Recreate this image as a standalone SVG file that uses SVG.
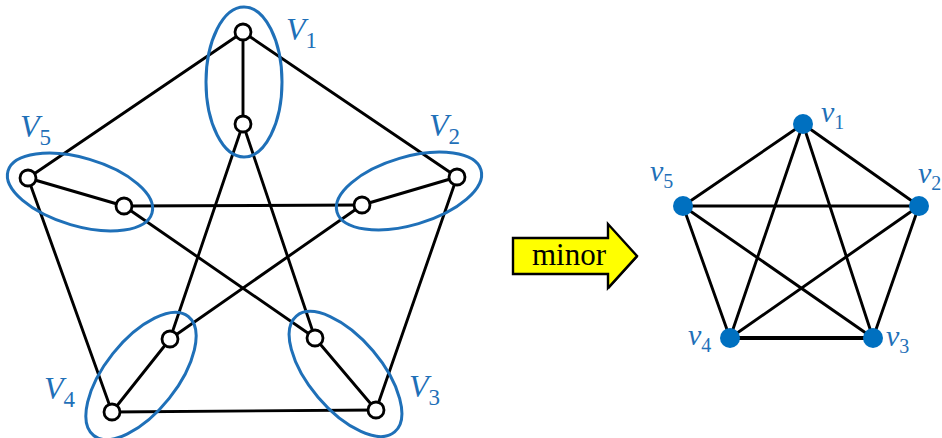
<svg xmlns="http://www.w3.org/2000/svg" width="942" height="438" viewBox="0 0 942 438">
<style>
.e{stroke:#000;stroke-width:2.9;fill:none;stroke-linecap:round}
.n{fill:#fff;stroke:#000;stroke-width:2.8}
.g{fill:none;stroke:#1f70b8;stroke-width:3}
.lab{font-family:"Liberation Serif",serif;font-style:italic;fill:#1f70b8}
.sub{font-style:normal}
.d{fill:#0070c0}
</style>
<rect width="942" height="438" fill="#fff"/>
<g id="edges-left">
<line class="e" x1="243" y1="32" x2="457" y2="177"/>
<line class="e" x1="457" y1="177" x2="376" y2="410"/>
<line class="e" x1="376" y1="410" x2="112" y2="412"/>
<line class="e" x1="112" y1="412" x2="28" y2="178"/>
<line class="e" x1="28" y1="178" x2="243" y2="32"/>
<line class="e" x1="243" y1="32" x2="243" y2="124"/>
<line class="e" x1="457" y1="177" x2="362" y2="205"/>
<line class="e" x1="376" y1="410" x2="315" y2="338"/>
<line class="e" x1="112" y1="412" x2="170" y2="339"/>
<line class="e" x1="28" y1="178" x2="124" y2="206"/>
<line class="e" x1="243" y1="124" x2="315" y2="338"/>
<line class="e" x1="243" y1="124" x2="170" y2="339"/>
<line class="e" x1="362" y1="205" x2="170" y2="339"/>
<line class="e" x1="362" y1="205" x2="124" y2="206"/>
<line class="e" x1="315" y1="338" x2="124" y2="206"/>
</g>
<g id="V1">
<ellipse class="g" cx="244" cy="82" rx="38" ry="75"/>
<circle class="n" cx="243" cy="32" r="8"/>
<circle class="n" cx="243" cy="124" r="8"/>
<text class="lab" x="286" y="40" font-size="32">V<tspan class="sub" font-size="23" dy="8">1</tspan></text>
</g>
<g id="V2">
<ellipse class="g" cx="409" cy="191" rx="75" ry="34" transform="rotate(-16.3 409 191)"/>
<circle class="n" cx="457" cy="177" r="8"/>
<circle class="n" cx="362" cy="205" r="8"/>
<text class="lab" x="429" y="136" font-size="32">V<tspan class="sub" font-size="23" dy="8">2</tspan></text>
</g>
<g id="V3">
<ellipse class="g" cx="345.5" cy="374" rx="76" ry="36" transform="rotate(49.7 345.5 374)"/>
<circle class="n" cx="315" cy="338" r="8"/>
<circle class="n" cx="376" cy="410" r="8"/>
<text class="lab" x="409" y="397" font-size="32">V<tspan class="sub" font-size="23" dy="8">3</tspan></text>
</g>
<g id="V4">
<ellipse class="g" cx="141" cy="376" rx="76" ry="36" transform="rotate(-51.5 141 376)"/>
<circle class="n" cx="112" cy="412" r="8"/>
<circle class="n" cx="170" cy="339" r="8"/>
<text class="lab" x="44" y="399" font-size="32">V<tspan class="sub" font-size="23" dy="8">4</tspan></text>
</g>
<g id="V5">
<ellipse class="g" cx="80" cy="192" rx="75" ry="34" transform="rotate(16.3 80 192)"/>
<circle class="n" cx="28" cy="178" r="8"/>
<circle class="n" cx="124" cy="206" r="8"/>
<text class="lab" x="20" y="137" font-size="32">V<tspan class="sub" font-size="23" dy="8">5</tspan></text>
</g>
<g id="minor-arrow">
<polygon points="514,239 609,239 609,225 638,257 609,289 609,275 514,275" fill="#000"/>
<polygon points="513,238 608,238 608,224 637,256 608,288 608,274 513,274" fill="#ffff00" stroke="#000" stroke-width="2.4" stroke-linejoin="miter"/>
<text x="532" y="265" font-family="'Liberation Serif',serif" font-size="31" fill="#000">minor</text>
</g>
<g id="edges-right">
<line class="e" x1="803" y1="124" x2="919" y2="206"/>
<line class="e" x1="803" y1="124" x2="873" y2="338"/>
<line class="e" x1="803" y1="124" x2="730" y2="338"/>
<line class="e" x1="803" y1="124" x2="683" y2="206"/>
<line class="e" x1="919" y1="206" x2="873" y2="338"/>
<line class="e" x1="919" y1="206" x2="730" y2="338"/>
<line class="e" x1="919" y1="206" x2="683" y2="206"/>
<line class="e" x1="873" y1="338" x2="730" y2="338" style="stroke-width:3.8"/>
<line class="e" x1="873" y1="338" x2="683" y2="206"/>
<line class="e" x1="730" y1="338" x2="683" y2="206"/>
</g>
<g id="v1"><circle class="d" cx="803" cy="124" r="10"/><text class="lab" x="821" y="122" font-size="30">v<tspan class="sub" font-size="20" dy="7">1</tspan></text></g>
<g id="v2"><circle class="d" cx="919" cy="206" r="10"/><text class="lab" x="918" y="183" font-size="30">v<tspan class="sub" font-size="20" dy="7">2</tspan></text></g>
<g id="v3"><circle class="d" cx="873" cy="338" r="10"/><text class="lab" x="886" y="346" font-size="30">v<tspan class="sub" font-size="20" dy="7">3</tspan></text></g>
<g id="v4"><circle class="d" cx="730" cy="338" r="10"/><text class="lab" x="688" y="345" font-size="30">v<tspan class="sub" font-size="20" dy="7">4</tspan></text></g>
<g id="v5"><circle class="d" cx="683" cy="206" r="10"/><text class="lab" x="650" y="181" font-size="30">v<tspan class="sub" font-size="20" dy="7">5</tspan></text></g>
</svg>
